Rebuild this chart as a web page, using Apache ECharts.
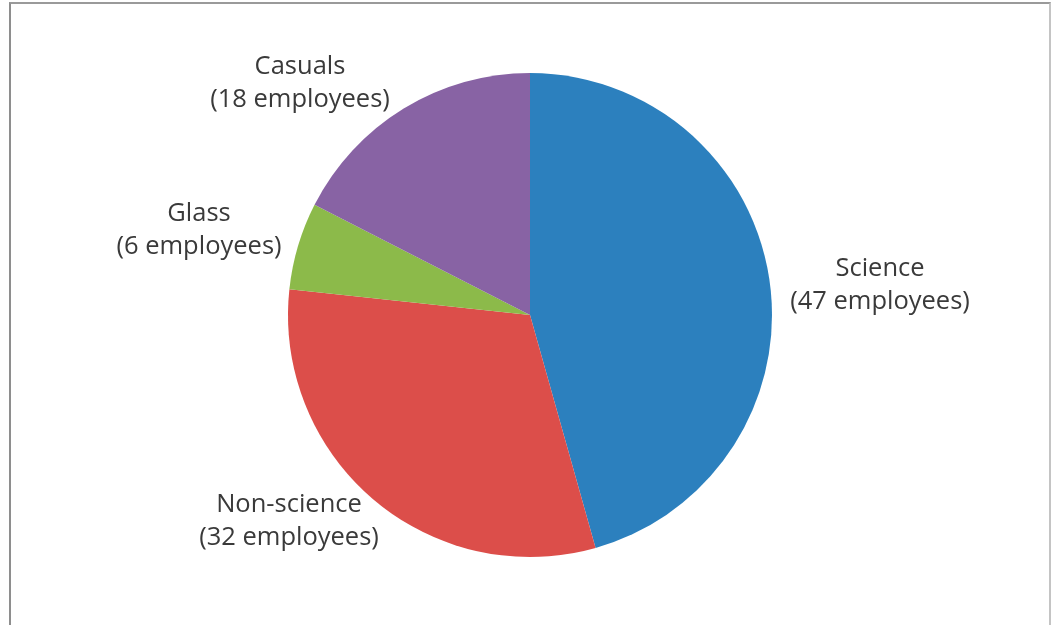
<!DOCTYPE html>
<html>
<head>
<meta charset="utf-8">
<script src="https://cdn.jsdelivr.net/npm/echarts@6/dist/echarts.min.js"></script>
<style>
  html, body { margin: 0; padding: 0; background: #ffffff; }
  #frame {
    position: absolute; left: 9px; top: 2px; width: 1038px; height: 630px;
    border-left: 2px solid #8e8e8e; border-top: 2px solid #9a9a9a; border-right: 2px solid #c4c4c4;
  }
  #chart { position: absolute; left: 0; top: 0; width: 1051px; height: 625px; }
</style>
</head>
<body>
<div id="frame"></div>
<div id="chart"></div>
<script>
// Staff groups and head counts
const categories = ['Science', 'Non-science', 'Glass', 'Casuals'];
const employees = [47, 32, 6, 18];
const sliceColors = ['#2c80be', '#dc4e4a', '#8cba4a', '#8863a4'];

// Where each two-line label sits (page pixels)
const labelSpots = [[880, 285], [289, 521], [199, 230], [300, 83]];

const chart = echarts.init(document.getElementById('chart'), null, { renderer: 'canvas' });

chart.setOption({
  animation: false,
  backgroundColor: 'transparent',
  series: [{
    type: 'pie',
    center: [530, 315],
    radius: 242,
    startAngle: 90,
    clockwise: true,
    silent: true,
    data: categories.map((name, i) => ({
      name,
      value: employees[i],
      itemStyle: { color: sliceColors[i] }
    })),
    itemStyle: { borderWidth: 0 },
    label: {
      show: true,
      position: 'outside',
      formatter: p => p.name + '\n(' + p.value + ' employees)',
      fontFamily: '"Open Sans", sans-serif',
      fontSize: 25.5,
      lineHeight: 33,
      color: '#3a3a3a',
      align: 'center'
    },
    labelLine: { show: false },
    labelLayout: p => ({
      x: labelSpots[p.dataIndex][0],
      y: labelSpots[p.dataIndex][1],
      align: 'center',
      verticalAlign: 'middle'
    })
  }]
});
</script>
</body>
</html>
